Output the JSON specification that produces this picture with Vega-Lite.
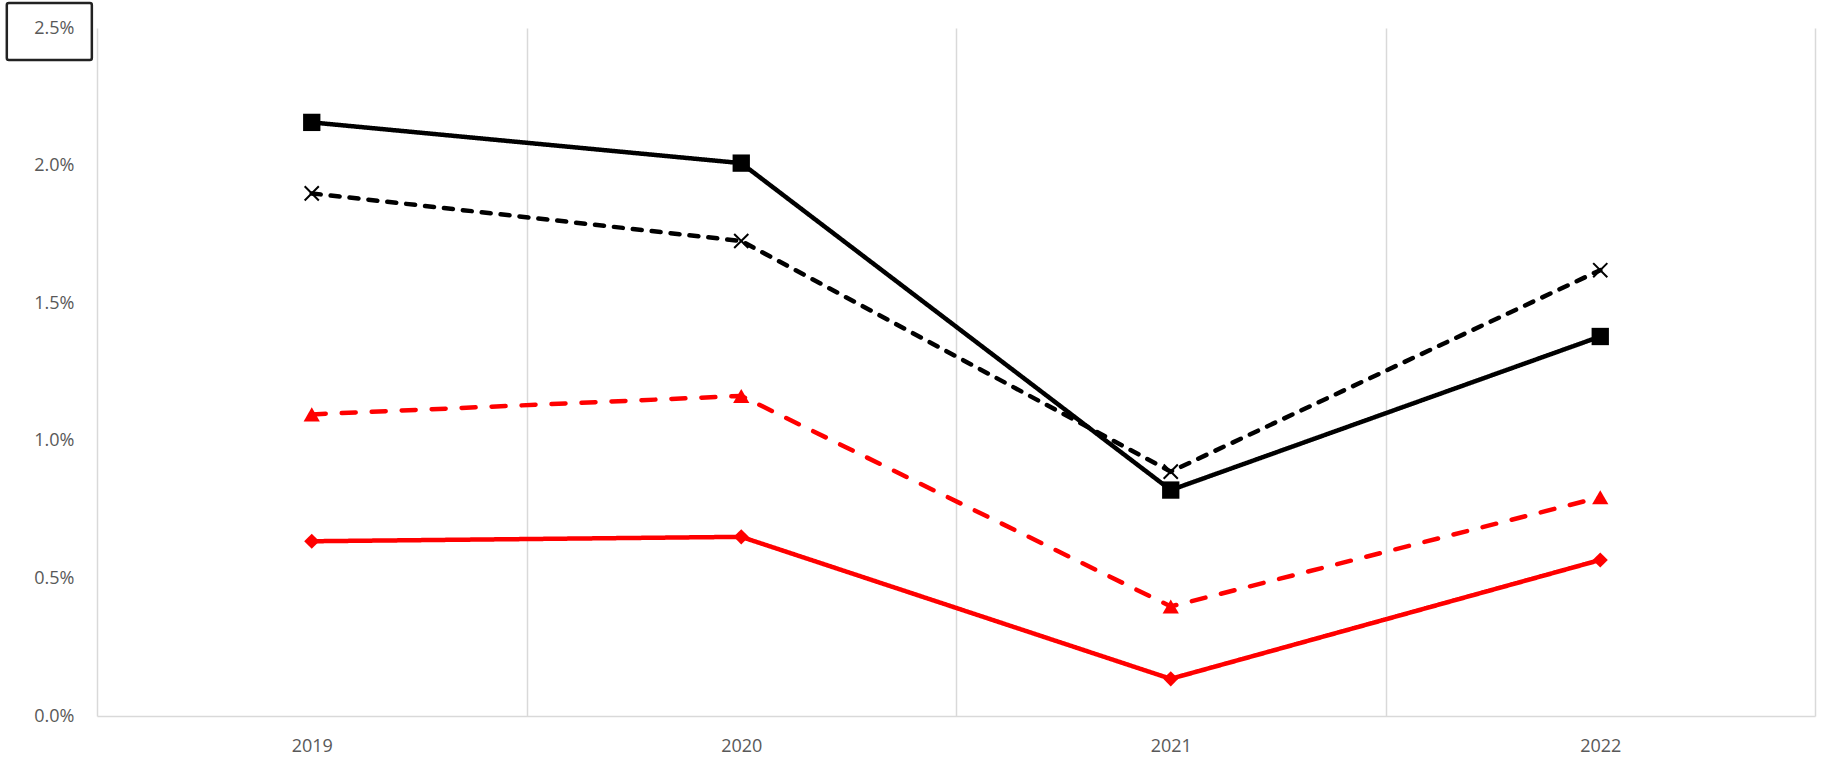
{
  "$schema": "https://vega.github.io/schema/vega-lite/v6.json",
  "width": 1718,
  "height": 688,
  "autosize": {"type": "none"},
  "padding": {"left": 97, "top": 28, "right": 9, "bottom": 41},
  "background": "white",
  "config": {
    "view": {"stroke": null},
    "font": "Open Sans"
  },
  "layer": [
    {
      "data": {
        "values": [
          {"year": 2019, "series": "Series 1", "value": 0.02157},
          {"year": 2020, "series": "Series 1", "value": 0.02009},
          {"year": 2021, "series": "Series 1", "value": 0.00821},
          {"year": 2022, "series": "Series 1", "value": 0.01379},
          {"year": 2019, "series": "Series 2", "value": 0.01899},
          {"year": 2020, "series": "Series 2", "value": 0.01726},
          {"year": 2021, "series": "Series 2", "value": 0.00888},
          {"year": 2022, "series": "Series 2", "value": 0.0162},
          {"year": 2019, "series": "Series 3", "value": 0.01096},
          {"year": 2020, "series": "Series 3", "value": 0.01163},
          {"year": 2021, "series": "Series 3", "value": 0.00398},
          {"year": 2022, "series": "Series 3", "value": 0.00795},
          {"year": 2019, "series": "Series 4", "value": 0.00635},
          {"year": 2020, "series": "Series 4", "value": 0.00651},
          {"year": 2021, "series": "Series 4", "value": 0.00135},
          {"year": 2022, "series": "Series 4", "value": 0.00567}
        ]
      },
      "encoding": {
        "x": {
          "field": "year",
          "type": "quantitative",
          "title": null,
          "scale": {"domain": [2018.5, 2022.5], "nice": false, "zero": false},
          "axis": {
            "title": null,
            "values": [2018.5, 2019, 2019.5, 2020, 2020.5, 2021, 2021.5, 2022, 2022.5],
            "labelExpr": "datum.value % 1 == 0 ? format(datum.value, 'd') : ''",
            "grid": true,
            "gridColor": "#d9d9d9",
            "gridWidth": 1.5,
            "gridOpacity": {"condition": {"test": "datum.value % 1 == 0", "value": 0}, "value": 1},
            "ticks": false,
            "domain": true,
            "domainColor": "#d9d9d9",
            "domainWidth": 1.5,
            "labelColor": "#595959",
            "labelFontSize": 18,
            "labelPadding": 21
          }
        },
        "y": {
          "field": "value",
          "type": "quantitative",
          "title": null,
          "scale": {"domain": [0, 0.025], "nice": false},
          "axis": {
            "title": null,
            "values": [0, 0.005, 0.01, 0.015, 0.02, 0.025],
            "format": ".1%",
            "grid": false,
            "ticks": false,
            "domain": false,
            "labelColor": "#595959",
            "labelFontSize": 18,
            "labelPadding": 23
          }
        }
      },
      "layer": [
        {
          "mark": {"type": "line", "strokeWidth": 4.5, "strokeCap": "round"},
          "encoding": {
            "color": {
              "field": "series",
              "type": "nominal",
              "scale": {"domain": ["Series 1", "Series 2", "Series 3", "Series 4"], "range": ["#000000", "#000000", "#ff0000", "#ff0000"]},
              "legend": null
            },
            "strokeDash": {
              "field": "series",
              "type": "nominal",
              "scale": {"domain": ["Series 1", "Series 2", "Series 3", "Series 4"], "range": [[1, 0], [9, 10], [14, 16], [1, 0]]},
              "legend": null
            }
          }
        },
        {
          "transform": [{"filter": "datum.series != 'Series 2'"}],
          "mark": {"type": "point", "filled": true, "opacity": 1},
          "encoding": {
            "color": {
              "field": "series",
              "type": "nominal",
              "scale": {"domain": ["Series 1", "Series 2", "Series 3", "Series 4"], "range": ["#000000", "#000000", "#ff0000", "#ff0000"]},
              "legend": null
            },
            "shape": {
              "field": "series",
              "type": "nominal",
              "scale": {"domain": ["Series 1", "Series 3", "Series 4"], "range": ["square", "triangle-up", "diamond"]},
              "legend": null
            },
            "size": {
              "field": "series",
              "type": "nominal",
              "scale": {"domain": ["Series 1", "Series 3", "Series 4"], "range": [300, 230, 290]},
              "legend": null
            }
          }
        },
        {
          "transform": [{"filter": "datum.series == 'Series 2'"}],
          "mark": {"type": "point", "filled": false, "shape": "M-1,-1L1,1M-1,1L1,-1", "size": 200, "stroke": "#000000", "strokeWidth": 2, "opacity": 1}
        }
      ]
    },
    {
      "data": {"values": [{"box": "2.5%"}]},
      "mark": {"type": "rect", "fill": "transparent", "stroke": "#222222", "strokeWidth": 2.5, "cornerRadius": 2, "clip": false},
      "encoding": {
        "x": {"datum": 2018.29, "type": "quantitative", "title": null},
        "x2": {"datum": 2018.488},
        "y": {"datum": 0.02591, "type": "quantitative", "title": null},
        "y2": {"datum": 0.02384}
      }
    }
  ]
}
